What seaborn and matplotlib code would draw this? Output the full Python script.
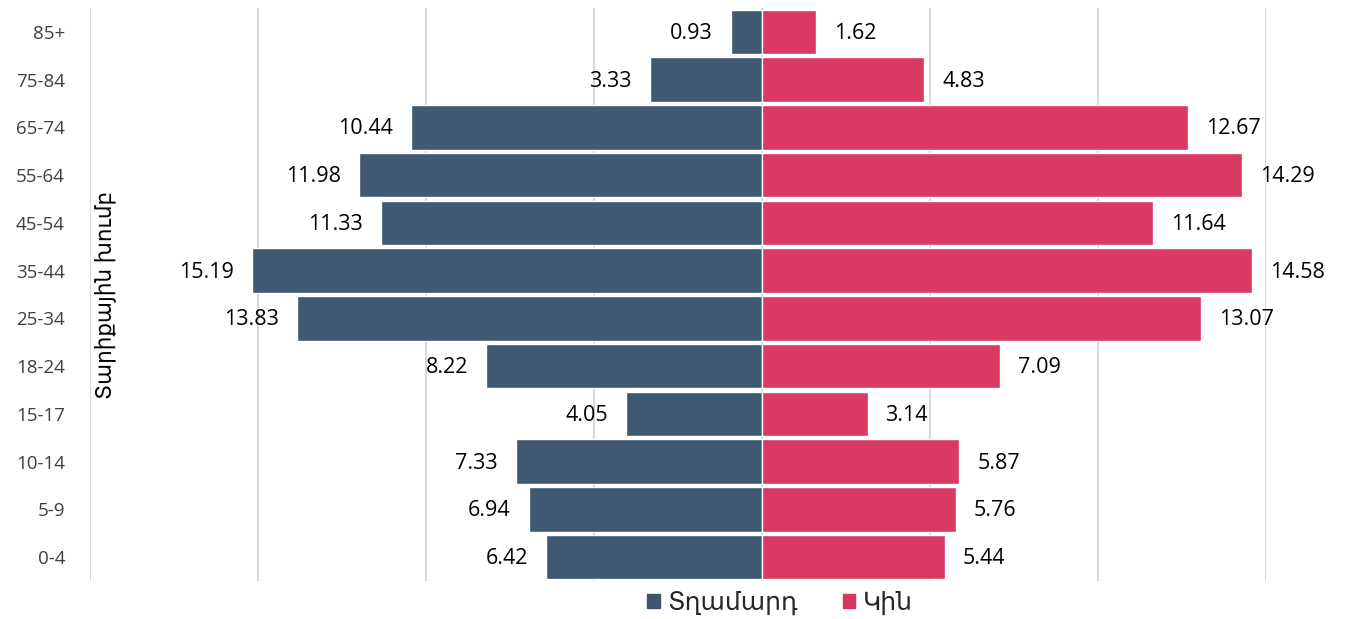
import pandas as pd
import matplotlib.pyplot as plt
import seaborn as sns
from matplotlib.patches import Patch

# Age groups, top of the chart first
age_groups = ['85+', '75-84', '65-74', '55-64', '45-54', '35-44',
              '25-34', '18-24', '15-17', '10-14', '5-9', '0-4']
men = [0.93, 3.33, 10.44, 11.98, 11.33, 15.19, 13.83, 8.22, 4.05, 7.33, 6.94, 6.42]
women = [1.62, 4.83, 12.67, 14.29, 11.64, 14.58, 13.07, 7.09, 3.14, 5.87, 5.76, 5.44]
series_names = ['Տղամարդ', 'Կին']
colors = ['#3b5670', '#d8365e']

sns.set_theme(style='white')
plt.rcParams['font.family'] = ['Open Sans', 'DejaVu Sans']

df = pd.concat([
    pd.DataFrame({'age': age_groups, 'value': [-v for v in men], 'sex': series_names[0]}),
    pd.DataFrame({'age': age_groups, 'value': women, 'sex': series_names[1]}),
])

fig = plt.figure(figsize=(13.49, 6.19), dpi=100)
ax = fig.add_axes([90 / 1349, 1 - 581 / 619, 1176 / 1349, 573 / 619])

sns.barplot(data=df, x='value', y='age', hue='sex', order=age_groups,
            hue_order=series_names, palette=colors, dodge=False, saturation=1,
            width=0.93, alpha=0.98, ax=ax, legend=False, zorder=3)

ax.set_xlim(-20, 15)
ax.set_xticks(range(-20, 16, 5))
ax.set_xticklabels([])
ax.grid(axis='x', color='#d9d9d9', linewidth=1.5, zorder=0)
ax.set_axisbelow(True)
for s in ax.spines.values():
    s.set_visible(False)
ax.tick_params(axis='y', length=0, pad=18, labelsize=13.5, labelcolor='#404040')
ax.tick_params(axis='x', length=0)
ax.set_xlabel('')
ax.set_ylabel('')

# value labels
for i, (m, w) in enumerate(zip(men, women)):
    ax.annotate(f'{m:.2f}', (-m, i), xytext=(-13, -1), textcoords='offset points',
                ha='right', va='center', fontsize=15.5, color='black')
    ax.annotate(f'{w:.2f}', (w, i), xytext=(13, -1), textcoords='offset points',
                ha='left', va='center', fontsize=15.5, color='black')

# axis title sits inside the plot area
ax.text(0.013, 0.5, 'Տարիքային խումբ', transform=ax.transAxes, rotation=90,
        ha='center', va='center', fontsize=15.5, color='black')

handles = [Patch(color=c) for c in colors]
fig.legend(handles, series_names, loc='center', bbox_to_anchor=(780 / 1349, 1 - 603 / 619),
           ncol=2, frameon=False, fontsize=18, handlelength=0.5, handleheight=0.5,
           handletextpad=0.3, columnspacing=1.8)

plt.savefig('out.png', dpi=100)
